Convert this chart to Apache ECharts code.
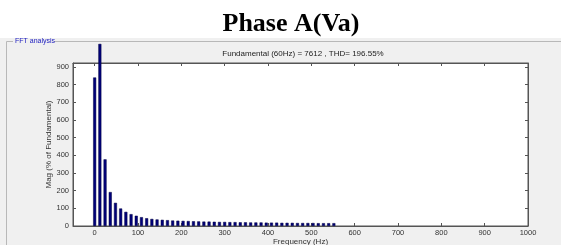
<!DOCTYPE html>
<html><head><meta charset="utf-8">
<script src="https://cdn.jsdelivr.net/npm/echarts@6/dist/echarts.min.js"></script>
<style>html,body{margin:0;padding:0;background:#fff}#c{width:561px;height:245px}</style>
</head><body><div id="c"></div>
<script>
// Frequencies (Hz) of harmonic bars
const frequencies = [0,12,24,36,48,60,72,84,96,108,120,132,144,156,168,180,192,204,216,228,240,252,264,276,288,300,312,324,336,348,360,372,384,396,408,420,432,444,456,468,480,492,504,516,528,540,552];
// Magnitudes (% of fundamental)
const magnitudes = [840,1030,377,192,131,99,80,67,58,50,44,40,37,35,33,31,30,29,28,27,26,25,25,24,23,23,22,22,21,21,20,20,20,19,19,19,18,18,18,17,17,17,17,16,16,16,16];
const xTicks = [0,100,200,300,400,500,600,700,800,900,1000];
const yTicks = [0,100,200,300,400,500,600,700,800,900];

const chart = echarts.init(document.getElementById('c'), null, {renderer:'canvas'});
const tickFont = {fontFamily:'Liberation Sans, Arial', fontSize:7.5, color:'#333'};
const axLine = {show:true, onZero:false, lineStyle:{color:'#555', width:1}};
chart.setOption({
  backgroundColor:'#fff',
  animation:false,
  title:[
    {text:'Phase A(Va)', left:286, textAlign:'center', top:6, textStyle:{fontFamily:'Liberation Serif', fontWeight:'bold', fontSize:26, color:'#000'}},
    {text:'Fundamental (60Hz) = 7612 , THD= 196.55%', left:298, textAlign:'center', top:45, textStyle:{fontFamily:'Liberation Sans, Arial', fontWeight:'normal', fontSize:8, color:'#222'}}
  ],
  graphic:[
    {type:'rect', shape:{x:0,y:38,width:561,height:207}, style:{fill:'#f0f0f0'}, z:-10, silent:true},
    {type:'polyline', shape:{points:[[13,41.5],[6.5,41.5],[6.5,245]]}, style:{stroke:'#b8b8b8', lineWidth:1, fill:null}, z:-9},
    {type:'line', shape:{x1:54,y1:41.5,x2:561,y2:41.5}, style:{stroke:'#b8b8b8', lineWidth:1}, z:-9},
    {type:'text', x:15, y:41, style:{text:'FFT analysis', fontFamily:'Liberation Sans, Arial', fontSize:7, fill:'#2020c0', verticalAlign:'middle'}, z:-8}
  ],
  grid:{left:73, right:33, top:63, bottom:19, outerBoundsMode:'none', containLabel:false, show:true, backgroundColor:'#fff', borderColor:'#555', borderWidth:1},
  xAxis:[
    {type:'value', min:-50, max:1000, position:'bottom',
     name:'Frequency (Hz)', nameLocation:'middle', nameGap:12, nameMoveOverlap:false,
     nameTextStyle:{fontFamily:'Liberation Sans, Arial', fontSize:8, color:'#333'},
     axisLine:axLine, splitLine:{show:false},
     axisTick:{show:true, inside:true, length:3, customValues:xTicks, lineStyle:{color:'#555'}},
     axisLabel:{customValues:xTicks, margin:3, formatter:v=>String(v), ...tickFont}},
    {type:'value', min:-50, max:1000, position:'top',
     axisLine:axLine, splitLine:{show:false},
     axisTick:{show:true, inside:true, length:3, customValues:xTicks, lineStyle:{color:'#555'}},
     axisLabel:{show:false}}
  ],
  yAxis:[
    {type:'value', min:0, max:922, position:'left',
     name:'Mag (% of Fundamental)', nameLocation:'middle', nameGap:20, nameRotate:90, nameMoveOverlap:false,
     nameTextStyle:{fontFamily:'Liberation Sans, Arial', fontSize:8, color:'#333'},
     axisLine:axLine, splitLine:{show:false},
     axisTick:{show:true, inside:true, length:3, customValues:yTicks, lineStyle:{color:'#555'}},
     axisLabel:{customValues:yTicks, margin:4, formatter:v=>String(v), ...tickFont}},
    {type:'value', min:0, max:922, position:'right',
     axisLine:axLine, splitLine:{show:false},
     axisTick:{show:true, inside:true, length:3, customValues:yTicks, lineStyle:{color:'#555'}},
     axisLabel:{show:false}}
  ],
  series:[{
    type:'bar', xAxisIndex:0, yAxisIndex:0, clip:false, barWidth:3,
    data: frequencies.map((f,i)=>[f, magnitudes[i]]),
    itemStyle:{color:'#00007a', borderColor:'#000040', borderWidth:0.5}
  }]
});
</script></body></html>
